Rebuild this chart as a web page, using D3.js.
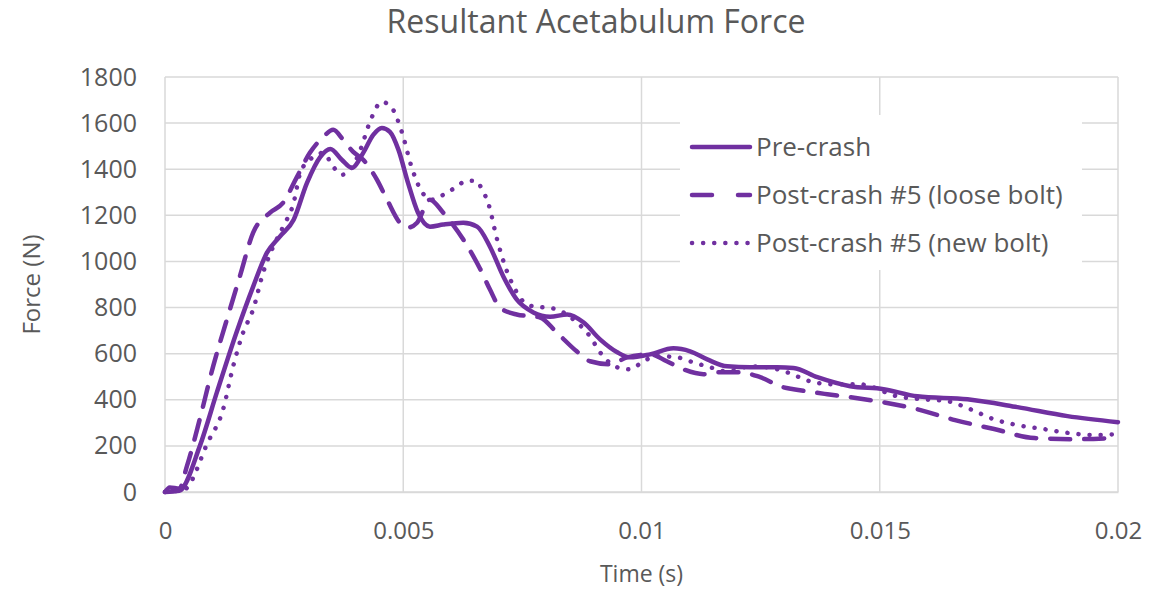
<!DOCTYPE html>
<html>
<head>
<meta charset="utf-8">
<script src="https://cdn.jsdelivr.net/npm/d3@7"></script>
<style>
  body { margin: 0; background: #fff; }
  text { font-family: "Open Sans", "Noto Sans", sans-serif; fill: #595959; }
</style>
</head>
<body>
<div id="wrapper"></div>
<script>
// time (s), force (N)
const preCrash = [
  [0, 0], [0.0003, 5], [0.00073, 199], [0.00109, 433], [0.0015, 692], [0.00185, 891],
  [0.00214, 1038], [0.00241, 1108], [0.0027, 1181], [0.00298, 1341], [0.00326, 1454],
  [0.00347, 1488], [0.00371, 1441], [0.00392, 1406], [0.00416, 1471], [0.00437, 1549],
  [0.00455, 1579], [0.00472, 1562], [0.0049, 1484], [0.0051, 1341], [0.00531, 1211],
  [0.00556, 1151], [0.00584, 1160], [0.00626, 1168], [0.00655, 1151], [0.00682, 1064],
  [0.0071, 935], [0.00738, 835], [0.00773, 779], [0.00808, 760], [0.00844, 770],
  [0.00878, 736], [0.00913, 662], [0.00949, 606], [0.00976, 584], [0.01018, 597],
  [0.01067, 623], [0.01102, 610], [0.01138, 575], [0.0118, 545], [0.01228, 541],
  [0.01285, 541], [0.01319, 538], [0.01369, 498], [0.01438, 459], [0.01508, 446],
  [0.01579, 415], [0.01684, 402], [0.01789, 368], [0.01894, 329], [0.02, 303]
]
const looseBolt = [
  [0, 0], [0.0001, 20], [0.0003, 15], [0.00046, 112], [0.00073, 316], [0.00101, 545],
  [0.0013, 749], [0.00157, 935], [0.00185, 1125], [0.0022, 1211], [0.00248, 1255],
  [0.00277, 1367], [0.00304, 1471], [0.00332, 1540], [0.00353, 1571], [0.00374, 1527],
  [0.00395, 1475], [0.00416, 1441], [0.00445, 1354], [0.00466, 1268], [0.00493, 1168],
  [0.0051, 1147], [0.00529, 1168], [0.00556, 1268], [0.00584, 1211], [0.00626, 1095],
  [0.00662, 965], [0.00682, 878], [0.00703, 800], [0.00738, 770], [0.00787, 757],
  [0.00822, 692], [0.00864, 610], [0.00892, 567], [0.00934, 554], [0.0097, 584],
  [0.01018, 597], [0.01053, 567], [0.01088, 532], [0.0113, 511], [0.01159, 519],
  [0.01207, 519], [0.01249, 498], [0.01298, 454], [0.01319, 446], [0.0139, 424],
  [0.01438, 411], [0.01508, 389], [0.01579, 359], [0.01658, 312], [0.0174, 273],
  [0.01825, 234], [0.0191, 229], [0.02, 235]
]
const newBolt = [
  [0, 0], [0.0004, 10], [0.0009, 216], [0.00122, 359], [0.00143, 545], [0.00164, 692],
  [0.00185, 792], [0.00206, 952], [0.00227, 1064], [0.00248, 1151], [0.0027, 1255],
  [0.00284, 1385], [0.00304, 1441], [0.00332, 1471], [0.00353, 1411], [0.00371, 1376],
  [0.00392, 1406], [0.0041, 1484], [0.0043, 1605], [0.00455, 1692], [0.00476, 1666],
  [0.00497, 1562], [0.00518, 1406], [0.00539, 1302], [0.0056, 1268], [0.00584, 1289],
  [0.00609, 1320], [0.00634, 1350], [0.00651, 1350], [0.00668, 1302], [0.00678, 1255],
  [0.00697, 1095], [0.00714, 978], [0.00735, 878], [0.00752, 826], [0.00773, 805],
  [0.00798, 800], [0.00822, 792], [0.00864, 736], [0.00892, 675], [0.00913, 606],
  [0.00949, 541], [0.00976, 532], [0.01004, 567], [0.01032, 589], [0.01075, 584],
  [0.01109, 562], [0.01144, 541], [0.0118, 523], [0.01228, 545], [0.01264, 541],
  [0.01306, 519], [0.01354, 480], [0.01403, 467], [0.01458, 467], [0.01537, 415],
  [0.01592, 402], [0.01642, 394], [0.0169, 359], [0.01739, 316], [0.01789, 290],
  [0.01844, 273], [0.019, 255], [0.01949, 247], [0.02, 251]
]

const seriesNames = ["Pre-crash", "Post-crash #5 (loose bolt)", "Post-crash #5 (new bolt)"]
const seriesData = [preCrash, looseBolt, newBolt]
const dashes = [null, "20,14", "0.1,11"]
const xTicks = [0, 0.005, 0.01, 0.015, 0.02]
const yTicks = [0, 200, 400, 600, 800, 1000, 1200, 1400, 1600, 1800]

const purple = "#7030a0"
const gridColor = "#d9d9d9"

const dimensions = {
  width: 1159,
  height: 592,
  margins: { top: 77, right: 41, bottom: 100, left: 165 },
}
dimensions.boundedWidth = dimensions.width - dimensions.margins.left - dimensions.margins.right
dimensions.boundedHeight = dimensions.height - dimensions.margins.top - dimensions.margins.bottom

const wrapper = d3.select("#wrapper")
  .append("svg")
  .attr("width", dimensions.width)
  .attr("height", dimensions.height)

const bounds = wrapper.append("g")
  .attr("transform", `translate(${dimensions.margins.left},${dimensions.margins.top})`)

const xScale = d3.scaleLinear().domain([0, 0.02]).range([0, dimensions.boundedWidth])
const yScale = d3.scaleLinear().domain([0, 1800]).range([dimensions.boundedHeight, 0])

// gridlines
bounds.append("g")
  .selectAll("line")
  .data(yTicks)
  .join("line")
  .attr("x1", 0)
  .attr("x2", dimensions.boundedWidth)
  .attr("y1", d => yScale(d))
  .attr("y2", d => yScale(d))
  .attr("stroke", gridColor)
  .attr("stroke-width", 1.5)

bounds.append("g")
  .selectAll("line")
  .data(xTicks)
  .join("line")
  .attr("x1", d => xScale(d))
  .attr("x2", d => xScale(d))
  .attr("y1", 0)
  .attr("y2", dimensions.boundedHeight)
  .attr("stroke", gridColor)
  .attr("stroke-width", 1.5)

// axes (labels only)
const xAxis = bounds.append("g")
  .attr("transform", `translate(0,${dimensions.boundedHeight})`)
  .call(d3.axisBottom(xScale).tickValues(xTicks).tickSize(0).tickPadding(30).tickFormat(d => String(+d.toFixed(3))))
xAxis.select(".domain").attr("stroke", gridColor).attr("stroke-width", 1.5)
xAxis.selectAll("text").attr("font-size", 24).attr("font-family", null)

const yAxis = bounds.append("g")
  .call(d3.axisLeft(yScale).tickValues(yTicks).tickSize(0).tickPadding(28).tickFormat(d3.format("d")))
yAxis.select(".domain").remove()
yAxis.selectAll("text").attr("font-size", 25).attr("font-family", null)

// lines
const lineGenerator = d3.line()
  .x(d => xScale(d[0]))
  .y(d => yScale(d[1]))
  .curve(d3.curveMonotoneX)

bounds.append("g")
  .selectAll("path")
  .data(seriesData)
  .join("path")
  .attr("d", d => lineGenerator(d))
  .attr("fill", "none")
  .attr("stroke", purple)
  .attr("stroke-width", 4.5)
  .attr("stroke-linecap", "round")
  .attr("stroke-linejoin", "round")
  .attr("stroke-dasharray", (d, i) => dashes[i])

// legend
const legend = wrapper.append("g")
legend.append("rect")
  .attr("x", 680).attr("y", 115)
  .attr("width", 402).attr("height", 155)
  .attr("fill", "#fff")

const legendItems = legend.selectAll(".item")
  .data(seriesNames)
  .join("g")
  .attr("class", "item")
  .attr("transform", (d, i) => `translate(690,${147 + i * 48})`)

legendItems.append("line")
  .attr("x1", 2).attr("x2", 60)
  .attr("stroke", purple)
  .attr("stroke-width", 4.5)
  .attr("stroke-linecap", "round")
  .attr("stroke-dasharray", (d, i) => i === 1 ? "20,26" : dashes[i])

legendItems.append("text")
  .attr("x", 66)
  .attr("dy", "0.35em")
  .attr("font-size", 26)
  .text(d => d)

// titles
wrapper.append("text")
  .attr("x", 596).attr("y", 33)
  .attr("text-anchor", "middle")
  .attr("font-size", 32)
  .text("Resultant Acetabulum Force")

wrapper.append("text")
  .attr("x", dimensions.margins.left + dimensions.boundedWidth / 2)
  .attr("y", 582)
  .attr("text-anchor", "middle")
  .attr("font-size", 23)
  .text("Time (s)")

wrapper.append("text")
  .attr("transform", `translate(40,${dimensions.margins.top + dimensions.boundedHeight / 2}) rotate(-90)`)
  .attr("text-anchor", "middle")
  .attr("font-size", 24)
  .text("Force (N)")
</script>
</body>
</html>
